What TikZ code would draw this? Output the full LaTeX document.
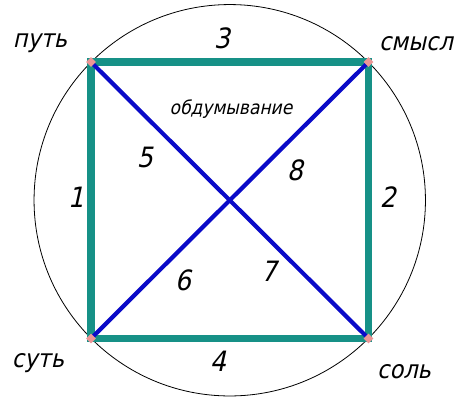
\documentclass[tikz,border=0pt]{standalone}
\usepackage{fontspec}
\setmainfont{DejaVu Sans Condensed}[FakeSlant=0.22]
\begin{document}
\begin{tikzpicture}[x=1pt,y=-1pt,
  sq/.style={line width=7.5pt, color={rgb,255:red,22;green,145;blue,135}},
  dg/.style={line width=4.2pt, color={rgb,255:red,10;green,10;blue,200}},
  lbl/.style={font=\fontsize{25}{27}\selectfont, inner sep=0pt},
  num/.style={font=\fontsize{28}{30}\selectfont, inner sep=0pt},
  mk/.style={rectangle, rotate=45, fill={rgb,255:red,235;green,150;blue,150}, inner sep=0pt, minimum size=7pt}]
\useasboundingbox (0,0) rectangle (468,400);
\coordinate (O) at (229.75,200.25);
\coordinate (TL) at (91,62);
\coordinate (TR) at (368.5,62);
\coordinate (BL) at (91,338.5);
\coordinate (BR) at (368.5,338.5);
\draw[line width=0.8pt] (O) circle[radius=195.7];
\draw[sq] (TL) -- (TR) -- (BR) -- (BL) -- cycle;
\draw[dg] (TL) -- (BR);
\draw[dg] (BL) -- (TR);
\node[mk] (mTL) at (TL) {};
\node[mk] (mTR) at (TR) {};
\node[mk] (mBL) at (BL) {};
\node[mk] (mBR) at (BR) {};
\node[lbl] (put) at (40,43) {путь};
\node[lbl] (smysl) at (416,44) {смысл};
\node[lbl] (sut) at (38,363) {суть};
\node[lbl] (sol) at (404,372) {соль};
\node[font=\fontsize{19}{21}\selectfont, inner sep=0pt] (obd) at (231,109) {обдумывание};
\node[num] (n3) at (222,38) {3};
\node[num] (n1) at (76,197) {1};
\node[num] (n2) at (388,197) {2};
\node[num] (n4) at (218,361) {4};
\node[num] (n5) at (145,157) {5};
\node[num] (n8) at (295,170) {8};
\node[num] (n6) at (183,280) {6};
\node[num] (n7) at (269,271) {7};
\end{tikzpicture}
\end{document}
